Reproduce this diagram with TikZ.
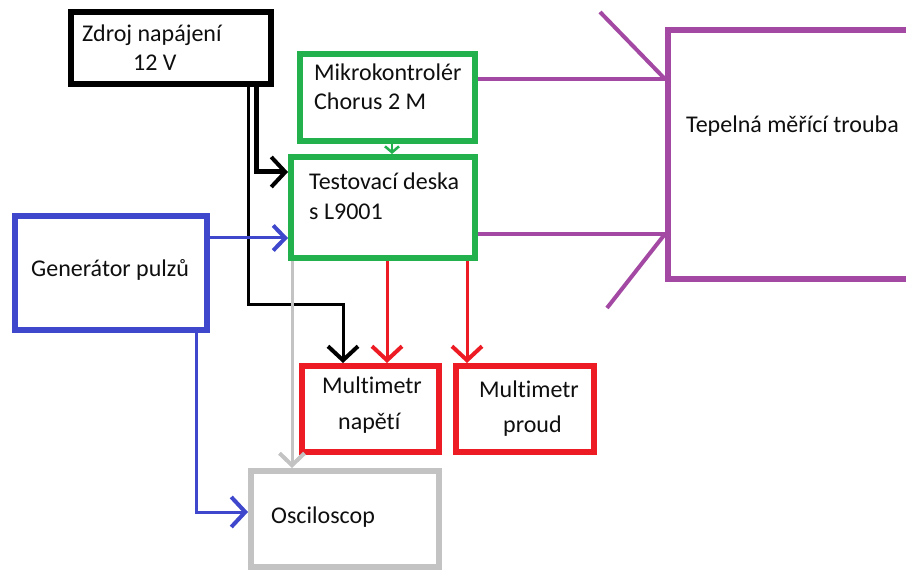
\documentclass[tikz,border=0pt]{standalone}
\usepackage{fontspec}
\setmainfont[Ligatures=NoCommon]{Carlito}
\usetikzlibrary{arrows.meta}
\definecolor{pgreen}{RGB}{34,177,76}
\definecolor{pblue}{RGB}{63,72,204}
\definecolor{pred}{RGB}{237,28,36}
\definecolor{pgray}{RGB}{195,195,195}
\definecolor{ppurple}{RGB}{163,73,164}
\definecolor{txt}{RGB}{15,15,15}
\begin{document}
\begin{tikzpicture}[x=1pt,y=-1pt,
  box/.style={draw,rectangle,line width=6pt,inner sep=0pt},
  lbl/.style={anchor=base west,inner sep=0pt,font=\fontsize{24}{29}\selectfont,text=txt},
  conn/.style={line width=3pt},
  bigtip/.style={-{Straight Barb[length=14pt,width=30pt,line width=4pt]}},
  midtip/.style={-{Straight Barb[length=12pt,width=25pt,line width=4pt]}},
  smalltip/.style={-{Straight Barb[length=6pt,width=14pt]}},
]
\useasboundingbox (0,0) rectangle (906,572);
\clip (0,0) rectangle (906,572);
\fill[white] (0,0) rectangle (906,572);

% boxes
\node[box,draw=black,minimum width=200pt,minimum height=72pt] (zdroj) at (171,48) {};
\node[box,draw=pgreen,minimum width=175pt,minimum height=87pt] (mikro) at (387.5,97.5) {};
\node[box,draw=pgreen,minimum width=184pt,minimum height=101pt] (test) at (383,207.5) {};
\node[box,draw=pblue,minimum width=192pt,minimum height=114pt] (gen) at (111,273) {};
\node[box,draw=pred,minimum width=137pt,minimum height=86pt] (mn) at (370.5,409) {};
\node[box,draw=pred,minimum width=138pt,minimum height=86pt] (mp) at (525,409) {};
\node[box,draw=pgray,minimum width=188pt,minimum height=96pt] (osc) at (345,519) {};
\node[box,draw=ppurple,minimum width=252pt,minimum height=249pt] (tep) at (794,154.5) {};

% labels
\node[lbl] (lz1) at (82,41.5) {Zdroj napájení};
\node[lbl] (lz2) at (133,71) {12 V};
\node[lbl] (lm1) at (314,81) {Mikrokontrolér};
\node[lbl] (lm2) at (314,110) {Chorus 2 M};
\node[lbl] (lt1) at (309,190) {Testovací deska};
\node[lbl] (lt2) at (309,220) {s L9001};
\node[lbl] (lg) at (31,277) {Generátor pulzů};
\node[lbl] (ln1) at (322,394) {Multimetr};
\node[lbl] (ln2) at (338,429) {napětí};
\node[lbl] (lp1) at (479,397) {Multimetr};
\node[lbl] (lp2) at (503,432) {proud};
\node[lbl] (lo) at (271,523) {Osciloscop};
\node[lbl] (ltp) at (686,133) {Tepelná měřící trouba};

% black connectors
\coordinate (z1) at ([xshift=85pt]zdroj.south);
\draw[line width=5pt,bigtip] (z1) |- ([yshift=35.5pt]test.west);
\coordinate (z2) at ([xshift=77pt]zdroj.south);
\coordinate (zb) at (248,305);
\draw[conn,bigtip] (z2) -- (zb) -| ([xshift=-27.5pt]mn.north);

% blue connectors
\coordinate (g1) at ([yshift=35pt]gen.east);
\draw[conn,draw=pblue,midtip] (g1) -- (g1 -| test.west);
\coordinate (g2) at ([xshift=85pt]gen.south);
\draw[conn,draw=pblue,bigtip] (g2) |- ([yshift=7pt]osc.west);

% green connector
\coordinate (m1) at ([xshift=4.5pt]mikro.south);
\draw[line width=2.5pt,draw=pgreen,smalltip] (m1) -- (m1 |- test.north);

% red connectors
\coordinate (r1) at ([xshift=4pt]test.south);
\draw[conn,draw=pred,bigtip] (r1) -- (r1 |- mn.north);
\coordinate (r2) at ([xshift=84pt]test.south);
\draw[conn,draw=pred,bigtip] (r2) -- (r2 |- mp.north);

% gray connector
\coordinate (s1) at ([xshift=-91pt]test.south);
\draw[conn,draw=pgray,midtip] (s1) -- (s1 |- osc.north);

% purple connectors
\coordinate (p1) at ([yshift=18.5pt]mikro.east);
\coordinate (p1e) at (p1 -| tep.west);
\coordinate (p1b) at (600,12);
\draw[line width=4pt,draw=ppurple] (p1) -- (p1e);
\draw[line width=4pt,draw=ppurple] (p1e) -- (p1b);
\coordinate (p2) at ([yshift=-26.5pt]test.east);
\coordinate (p2e) at (p2 -| tep.west);
\coordinate (p2b) at (607,308);
\draw[line width=4pt,draw=ppurple] (p2) -- (p2e);
\draw[line width=4pt,draw=ppurple] (p2e) -- (p2b);
\end{tikzpicture}
\end{document}
